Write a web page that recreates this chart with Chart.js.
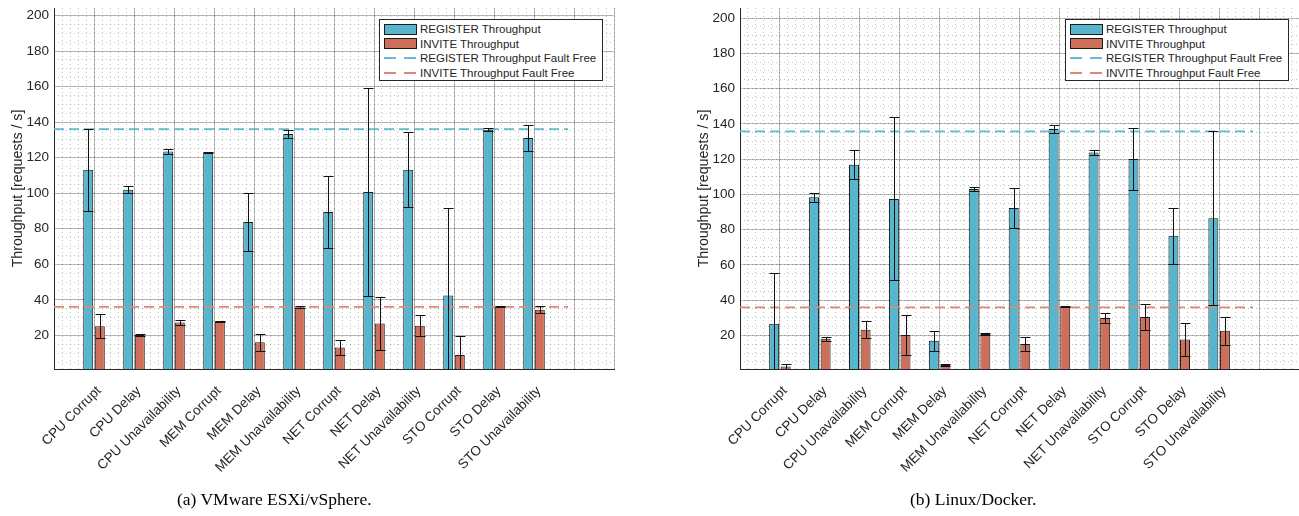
<!DOCTYPE html>
<html>
<head>
<meta charset="utf-8">
<script src="https://cdn.jsdelivr.net/npm/chart.js@4.4.0/dist/chart.umd.min.js"></script>
<style>
    body { margin: 0; width: 1299px; height: 516px; background: #fff; position: relative; overflow: hidden; font-family: "Liberation Sans", Arial, sans-serif; }
    .wrap { position: absolute; top: 0; height: 516px; }
    #wrapA { left: 0; width: 620px; }
    #wrapB { left: 686px; width: 613px; }
    .legend { position: absolute; top: 19px; width: 224px; height: 62px; border: 1px solid #262626; background: #fff; font-size: 11.5px; color: #262626; padding-top: 2px; box-sizing: border-box; }
    .legend .row { height: 14.6px; display: flex; align-items: center; white-space: nowrap; }
    .legend .sw { width: 33px; height: 10px; margin: 0 3px 0 4px; box-sizing: border-box; flex: none; }
    .caption { position: absolute; top: 489px; font-family: "Liberation Serif", "Times New Roman", serif; font-size: 17.5px; color: #000; white-space: nowrap; }
</style>
</head>
<body>
<div class="wrap" id="wrapA"><canvas id="chartA" width="620" height="516"></canvas></div>
<div class="wrap" id="wrapB"><canvas id="chartB" width="613" height="516"></canvas></div>
<div class="legend" id="legendA" style="left:379px"></div>
<div class="legend" id="legendB" style="left:1065px"></div>
<div class="caption" style="left:177px">(a) VMware ESXi/vSphere.</div>
<div class="caption" style="left:910px">(b) Linux/Docker.</div>

<script>
// ---------- data ----------
const categories = ['CPU Corrupt', 'CPU Delay', 'CPU Unavailability', 'MEM Corrupt', 'MEM Delay', 'MEM Unavailability',
    'NET Corrupt', 'NET Delay', 'NET Unavailability', 'STO Corrupt', 'STO Delay', 'STO Unavailability'];
const yTicks = [20, 40, 60, 80, 100, 120, 140, 160, 180, 200];
const seriesNames = ['REGISTER Throughput', 'INVITE Throughput', 'REGISTER Throughput Fault Free', 'INVITE Throughput Fault Free'];

// (a) VMware ESXi/vSphere
const vmRegister = [113.2, 102.0, 123.5, 122.8, 83.8, 133.3, 89.4, 100.7, 113.2, 42.5, 135.7, 131.0];
const vmRegisterErr = [23.0, 2.0, 1.6, 0.4, 16.2, 2.0, 20.4, 58.6, 21.0, 49.3, 0.9, 7.1];
const vmInvite = [25.1, 20.2, 27.3, 27.9, 16.1, 35.9, 13.2, 26.7, 25.5, 9.0, 36.3, 34.5];
const vmInviteErr = [6.7, 0.5, 1.5, 0.3, 4.7, 0.6, 4.0, 14.8, 6.0, 10.4, 0.3, 2.0];
const vmRegisterFree = 136.1;
const vmInviteFree = 36.0;

// (b) Linux/Docker
const dkRegister = [26.6, 98.3, 116.8, 97.4, 17.0, 103.0, 92.2, 137.1, 123.8, 120.0, 76.5, 86.4];
const dkRegisterErr = [28.8, 2.4, 8.3, 46.2, 5.7, 0.9, 11.3, 2.2, 1.4, 17.7, 16.0, 49.3];
const dkInvite = [2.4, 18.1, 23.2, 20.2, 3.2, 20.8, 15.1, 36.4, 29.9, 30.4, 17.7, 22.7];
const dkInviteErr = [1.4, 1.0, 4.7, 11.3, 0.7, 0.7, 3.8, 0.3, 2.8, 7.2, 9.4, 8.0];
const dkRegisterFree = 135.7;
const dkInviteFree = 35.9;

// ---------- styling ----------
const BLUE = '#57b5cd', RED = '#cd6f5a';
const BLUE_LINE = '#5fbcd3', RED_LINE = '#dc8a73';
const AXIS = '#262626';
const X_MAX = 14, FREE_END = 12.85;

Chart.defaults.font.family = '"Liberation Sans", Arial, sans-serif';
Chart.defaults.font.size = 13.5;
Chart.defaults.color = AXIS;

// error bars drawn from the y scale
const errorBars = {
    id: 'errorBars',
    afterDatasetsDraw(chart) {
        const { ctx, chartArea, scales } = chart;
        const y = scales.y;
        ctx.save();
        ctx.beginPath();
        ctx.rect(chartArea.left, chartArea.top, chartArea.width, chartArea.height);
        ctx.clip();
        ctx.strokeStyle = '#111';
        ctx.lineWidth = 1;
        chart.data.datasets.forEach((ds, di) => {
            if (!ds.errors) return;
            const meta = chart.getDatasetMeta(di);
            meta.data.forEach((bar, i) => {
                const v = ds.data[i].y, e = ds.errors[i];
                const top = Math.round(y.getPixelForValue(v + e)) + 0.5;
                const bot = Math.round(y.getPixelForValue(v - e)) + 0.5;
                const half = bar.width / 2;
                const x = Math.round(bar.x) + 0.5;
                ctx.beginPath();
                ctx.moveTo(x, top); ctx.lineTo(x, bot);
                ctx.moveTo(x - half, top); ctx.lineTo(x + half, top);
                ctx.moveTo(x - half, bot); ctx.lineTo(x + half, bot);
                ctx.stroke();
            });
        });
        ctx.restore();
    }
};

function range(a, b, step) {
    const out = [];
    for (let v = a; v <= b + 1e-9; v += step) out.push(Math.round(v * 100) / 100);
    return out;
}

function noPad(s) {
    s.paddingTop = 0; s.paddingBottom = 0; s.paddingLeft = 0; s.paddingRight = 0;
}

function buildChart(id, reg, regErr, inv, invErr, regFree, invFree, yMin, yMax, padRight) {
    const toXY = arr => arr.map((v, i) => ({ x: i + 1, y: v }));
    const ctx = document.getElementById(id).getContext('2d');
    const setTicks = vals => s => { s.ticks = vals.map(v => ({ value: v })); };
    const barStyle = { borderColor: '#1a1a1a', borderWidth: 1, categoryPercentage: 0.58, barPercentage: 0.86, order: 1, xAxisID: 'x', yAxisID: 'y' };
    const lineStyle = { type: 'line', borderWidth: 1.8, borderDash: [10, 5], pointRadius: 0, order: 0, xAxisID: 'x', yAxisID: 'y' };
    return new Chart(ctx, {
        type: 'bar',
        data: {
            datasets: [
                { ...barStyle, label: seriesNames[0], data: toXY(reg), errors: regErr, backgroundColor: BLUE },
                { ...barStyle, label: seriesNames[1], data: toXY(inv), errors: invErr, backgroundColor: RED },
                { ...lineStyle, label: seriesNames[2], data: [{ x: 0, y: regFree }, { x: FREE_END, y: regFree }], borderColor: BLUE_LINE },
                { ...lineStyle, label: seriesNames[3], data: [{ x: 0, y: invFree }, { x: FREE_END, y: invFree }], borderColor: RED_LINE }
            ]
        },
        options: {
            responsive: false,
            animation: false,
            devicePixelRatio: 1,
            layout: { padding: { top: 8, right: padRight, left: 0, bottom: 0 } },
            plugins: { legend: { display: false }, tooltip: { enabled: false } },
            scales: {
                x: {
                    type: 'linear', position: 'bottom', min: 0, max: X_MAX, offset: false,
                    afterBuildTicks: setTicks(range(0, X_MAX, 1)),
                    afterFit: s => { s.height = 147; noPad(s); },
                    ticks: {
                        autoSkip: false, minRotation: 45, maxRotation: 45, padding: 14, labelOffset: 5,
                        callback: v => categories[v - 1] || ''
                    },
                    grid: { color: 'rgba(0,0,0,0.26)', lineWidth: 1, drawTicks: false, offset: false },
                    border: { color: AXIS, width: 1 }
                },
                y: {
                    type: 'linear', position: 'left', min: yMin, max: yMax,
                    afterBuildTicks: setTicks(yTicks),
                    afterFit: s => { s.width = 54; noPad(s); },
                    ticks: { padding: 5 },
                    title: { display: true, text: 'Throughput [requests / s]', padding: { top: 10, bottom: 0 }, font: { size: 14.2 } },
                    grid: { color: 'rgba(0,0,0,0.26)', lineWidth: 1, drawTicks: false },
                    border: { color: AXIS, width: 1 }
                },
                xMinor: {
                    type: 'linear', position: 'bottom', min: 0, max: X_MAX, offset: false,
                    afterBuildTicks: setTicks(range(0, X_MAX, 0.2)),
                    afterFit: s => { s.height = 0; noPad(s); },
                    ticks: { display: false },
                    grid: { color: 'rgba(0,0,0,0.24)', lineWidth: 1, drawTicks: false, offset: false },
                    border: { display: false, dash: [1, 3] }
                },
                yMinor: {
                    type: 'linear', position: 'left', min: yMin, max: yMax,
                    afterBuildTicks: setTicks(range(5, 200, 5)),
                    afterFit: s => { s.width = 0; noPad(s); },
                    ticks: { display: false },
                    grid: { color: 'rgba(0,0,0,0.24)', lineWidth: 1, drawTicks: false },
                    border: { display: false, dash: [1, 3] }
                }
            }
        },
        plugins: [errorBars]
    });
}

function buildLegend(id) {
    const el = document.getElementById(id);
    const swatches = [
        `background:${BLUE};border:1px solid #1a1a1a;height:11px`,
        `background:${RED};border:1px solid #1a1a1a;height:11px`,
        `height:2px;background:repeating-linear-gradient(to right, ${BLUE_LINE} 0 12px, transparent 12px 20px)`,
        `height:2px;background:repeating-linear-gradient(to right, ${RED_LINE} 0 12px, transparent 12px 20px)`
    ];
    seriesNames.forEach((name, i) => {
        const row = document.createElement('div');
        row.className = 'row';
        row.innerHTML = `<span class="sw" style="${swatches[i]}"></span><span>${name}</span>`;
        el.appendChild(row);
    });
}

buildChart('chartA', vmRegister, vmRegisterErr, vmInvite, vmInviteErr, vmRegisterFree, vmInviteFree, 1.1, 204.2, 6);
buildChart('chartB', dkRegister, dkRegisterErr, dkInvite, dkInviteErr, dkRegisterFree, dkInviteFree, 0.95, 205.7, 0);
buildLegend('legendA');
buildLegend('legendB');
</script>
</body>
</html>
